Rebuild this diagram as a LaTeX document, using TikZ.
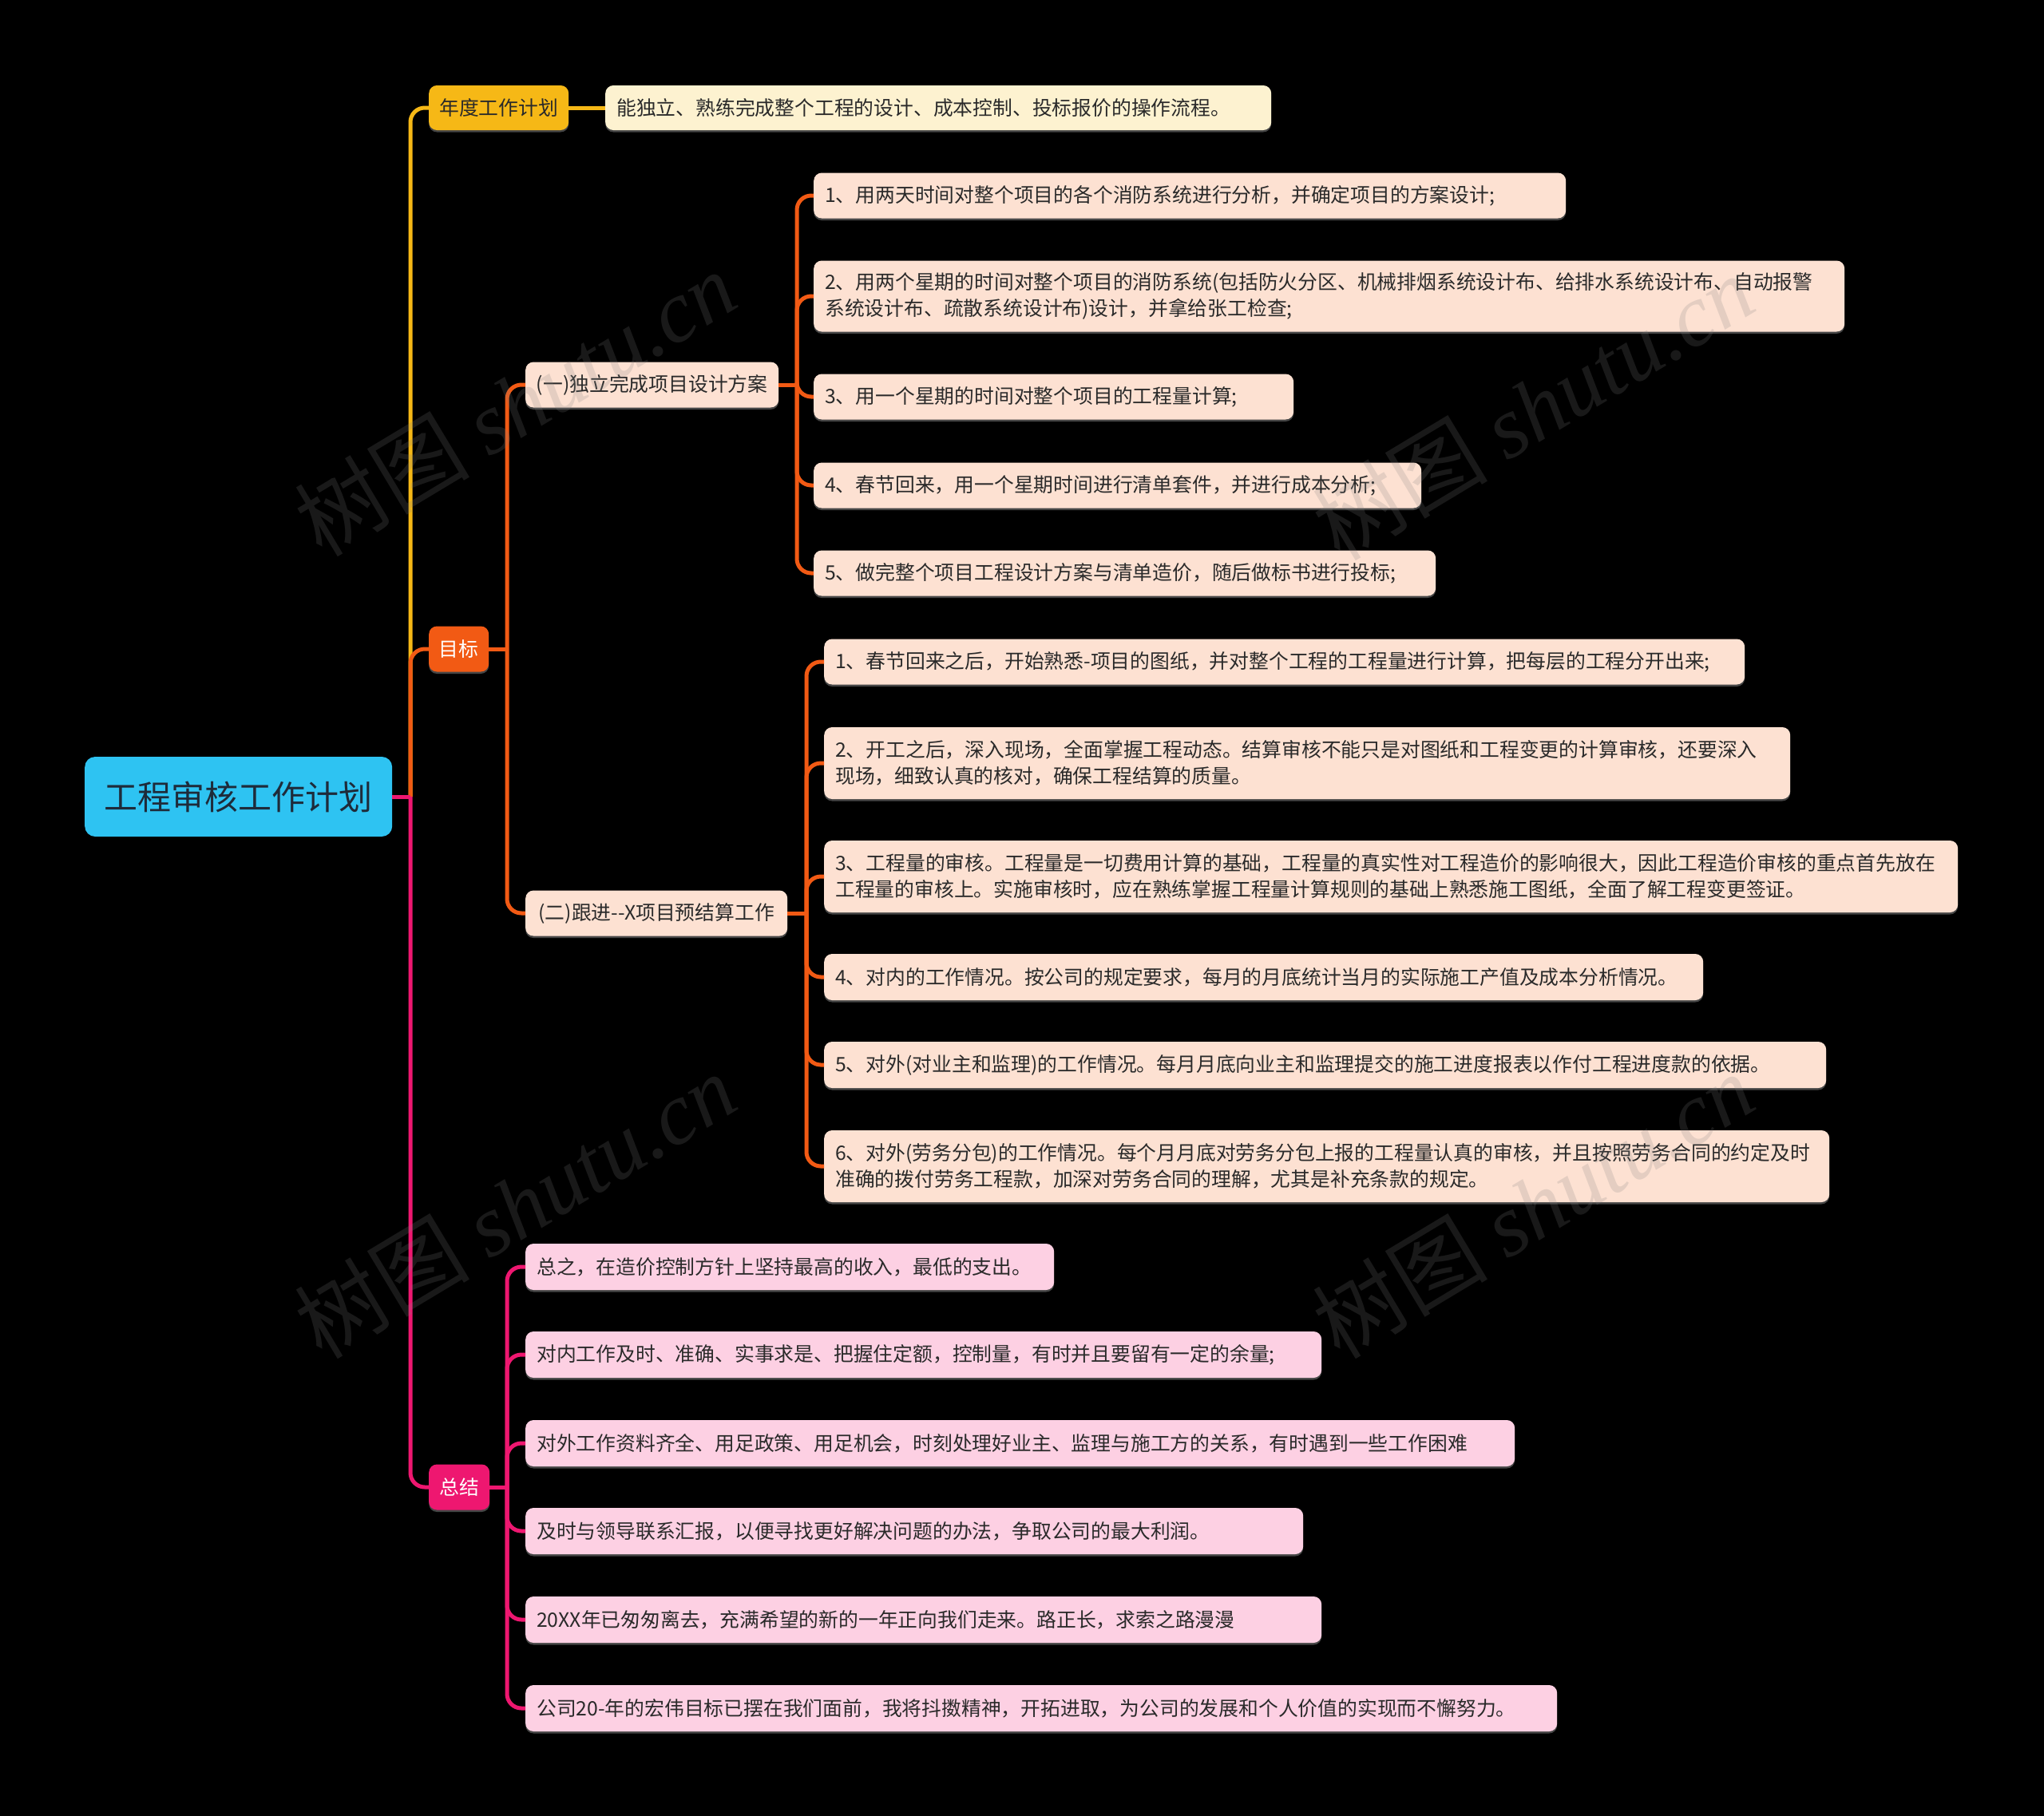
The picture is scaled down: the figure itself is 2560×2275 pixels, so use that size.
\documentclass[tikz,border=0pt]{standalone}
\usepackage{fontspec}
\setmainfont{Noto Sans CJK SC}
\newfontfamily\wmserif{Liberation Serif}
\usetikzlibrary{shadows}
\definecolor{bg}{HTML}{000000}
\definecolor{rootfill}{HTML}{2EC3F2}
\definecolor{roottext}{HTML}{1E2B3A}
\definecolor{ylw}{HTML}{F6B816}
\definecolor{ylwleaf}{HTML}{FDF2D0}
\definecolor{org}{HTML}{F25A14}
\definecolor{orgleaf}{HTML}{FDE1D2}
\definecolor{pnk}{HTML}{EE1770}
\definecolor{pnkleaf}{HTML}{FDD0E3}
\definecolor{txt}{HTML}{2A2A2A}
\definecolor{wm}{HTML}{808080}
\begin{document}
\begin{tikzpicture}[x=1pt,y=-1pt,
  basebox/.style={rounded corners=10pt, anchor=west, inner ysep=4pt,
    font=\fontsize{24.8}{33}\selectfont, text=txt,
    drop shadow={shadow xshift=0pt, shadow yshift=-2.5pt, fill=gray, opacity=0.55}},
  leafbox/.style={basebox, inner xsep=14pt, align=left},
  headbox/.style={basebox, inner xsep=6pt, align=center},
  rootbox/.style={rounded corners=13pt, anchor=west, fill=rootfill, text=roottext,
    font=\fontsize{42}{50}\selectfont, minimum width=385pt, minimum height=100pt, align=center},
  conn/.style={line width=5pt},
  wmark/.style={text=wm, opacity=0.2, rotate=31, font=\fontsize{110}{120}\selectfont}
]
\fill[bg] (0,0) rectangle (2560,2275);
\useasboundingbox (0,0) rectangle (2560,2275);

% ---------- nodes ----------
\node[rootbox] (root) at (106,998) {工程审核工作计划};

\node[headbox, fill=ylw, minimum width=175pt, minimum height=56pt] (nd) at (537,135) {年度工作计划};
\node[headbox, fill=org, text=white, minimum width=75pt, minimum height=57pt] (mb) at (537,813) {目标};
\node[headbox, fill=pnk, text=white, minimum width=76pt, minimum height=57pt] (zj) at (537,1863) {总结};

\node[leafbox, fill=ylwleaf, text width=806pt, minimum height=56pt] (ndl) at (758,135) {能独立、熟练完成整个工程的设计、成本控制、投标报价的操作流程。};

\node[headbox, fill=orgleaf, minimum width=317pt, minimum height=57pt] (ga) at (658,482) {(一)独立完成项目设计方案};
\node[headbox, fill=orgleaf, minimum width=328pt, minimum height=57pt] (gb) at (658,1144) {(二)跟进-{}-X项目预结算工作};

\node[leafbox, fill=orgleaf, text width=914pt, minimum height=57pt] (a1) at (1019,245) {1、用两天时间对整个项目的各个消防系统进行分析，并确定项目的方案设计;};
\node[leafbox, fill=orgleaf, text width=1263pt, minimum height=89pt] (a2) at (1019,371) {2、用两个星期的时间对整个项目的消防系统(包括防火分区、机械排烟系统设计布、给排水系统设计布、自动报警\\系统设计布、疏散系统设计布)设计，并拿给张工检查;};
\node[leafbox, fill=orgleaf, text width=573pt, minimum height=57pt] (a3) at (1019,497) {3、用一个星期的时间对整个项目的工程量计算;};
\node[leafbox, fill=orgleaf, text width=733pt, minimum height=57pt] (a4) at (1019,608) {4、春节回来，用一个星期时间进行清单套件，并进行成本分析;};
\node[leafbox, fill=orgleaf, text width=751pt, minimum height=57pt] (a5) at (1019,718) {5、做完整个项目工程设计方案与清单造价，随后做标书进行投标;};

\node[leafbox, fill=orgleaf, text width=1125pt, minimum height=57pt] (b1) at (1032,829) {1、春节回来之后，开始熟悉-项目的图纸，并对整个工程的工程量进行计算，把每层的工程分开出来;};
\node[leafbox, fill=orgleaf, text width=1182pt, minimum height=90pt] (b2) at (1032,956) {2、开工之后，深入现场，全面掌握工程动态。结算审核不能只是对图纸和工程变更的计算审核，还要深入\\现场，细致认真的核对，确保工程结算的质量。};
\node[leafbox, fill=orgleaf, text width=1392pt, minimum height=90pt] (b3) at (1032,1098) {3、工程量的审核。工程量是一切费用计算的基础，工程量的真实性对工程造价的影响很大，因此工程造价审核的重点首先放在\\工程量的审核上。实施审核时，应在熟练掌握工程量计算规则的基础上熟悉施工图纸，全面了解工程变更签证。};
\node[leafbox, fill=orgleaf, text width=1073pt, minimum height=58pt] (b4) at (1032,1224) {4、对内的工作情况。按公司的规定要求，每月的月底统计当月的实际施工产值及成本分析情况。};
\node[leafbox, fill=orgleaf, text width=1227pt, minimum height=58pt] (b5) at (1032,1334) {5、对外(对业主和监理)的工作情况。每月月底向业主和监理提交的施工进度报表以作付工程进度款的依据。};
\node[leafbox, fill=orgleaf, text width=1231pt, minimum height=90pt] (b6) at (1032,1461) {6、对外(劳务分包)的工作情况。每个月月底对劳务分包上报的工程量认真的审核，并且按照劳务合同的约定及时\\准确的拨付劳务工程款，加深对劳务合同的理解，尤其是补充条款的规定。};

\node[leafbox, fill=pnkleaf, text width=634pt, minimum height=58pt] (z1) at (658,1587) {总之，在造价控制方针上坚持最高的收入，最低的支出。};
\node[leafbox, fill=pnkleaf, text width=969pt, minimum height=58pt] (z2) at (658,1697) {对内工作及时、准确、实事求是、把握住定额，控制量，有时并且要留有一定的余量;};
\node[leafbox, fill=pnkleaf, text width=1211pt, minimum height=58pt] (z3) at (658,1808) {对外工作资料齐全、用足政策、用足机会，时刻处理好业主、监理与施工方的关系，有时遇到一些工作困难};
\node[leafbox, fill=pnkleaf, text width=946pt, minimum height=58pt] (z4) at (658,1918) {及时与领导联系汇报，以便寻找更好解决问题的办法，争取公司的最大利润。};
\node[leafbox, fill=pnkleaf, text width=969pt, minimum height=58pt] (z5) at (658,2029) {20XX年已匆匆离去，充满希望的新的一年正向我们走来。路正长，求索之路漫漫};
\node[leafbox, fill=pnkleaf, text width=1264pt, minimum height=58pt] (z6) at (658,2140) {公司20-年的宏伟目标已摆在我们面前，我将抖擞精神，开拓进取，为公司的发展和个人价值的实现而不懈努力。};

% ---------- junction coordinates ----------
\coordinate (jr) at (514,998);
\coordinate (jmb) at (635,813);
\coordinate (jzj) at (635,1863);
\coordinate (jga) at (998,482);
\coordinate (jgb) at (1010,1144);

% ---------- connectors ----------
\draw[conn, ylw] (root.east) -- (jr);
\draw[conn, ylw, rounded corners=18pt] (jr) |- (nd.west);
\draw[conn, ylw] (nd.east) -- (ndl.west);

\draw[conn, org, rounded corners=18pt] (jr) |- (mb.west);
\draw[conn, pnk] (root.east) -- (jr);
\draw[conn, pnk, rounded corners=18pt] (jr) |- (zj.west);

\draw[conn, org] (mb.east) -- (jmb);
\foreach \c in {ga,gb} \draw[conn, org, rounded corners=18pt] (jmb) |- (\c.west);
\draw[conn, org] (ga.east) -- (jga);
\foreach \c in {a1,a2,a3,a4,a5} \draw[conn, org, rounded corners=18pt] (jga) |- (\c.west);
\draw[conn, org] (gb.east) -- (jgb);
\foreach \c in {b1,b2,b3,b4,b5,b6} \draw[conn, org, rounded corners=18pt] (jgb) |- (\c.west);

\draw[conn, pnk] (zj.east) -- (jzj);
\foreach \c in {z1,z2,z3,z4,z5,z6} \draw[conn, pnk, rounded corners=18pt] (jzj) |- (\c.west);

% ---------- watermarks ----------
\node[wmark] (wm1) at (645,505) {树图 {\wmserif\itshape shutu.cn}};
\node[wmark] (wm2) at (645,1510) {树图 {\wmserif\itshape shutu.cn}};
\node[wmark] (wm3) at (1920,510) {树图 {\wmserif\itshape shutu.cn}};
\node[wmark] (wm4) at (1920,1510) {树图 {\wmserif\itshape shutu.cn}};
\end{tikzpicture}
\end{document}
